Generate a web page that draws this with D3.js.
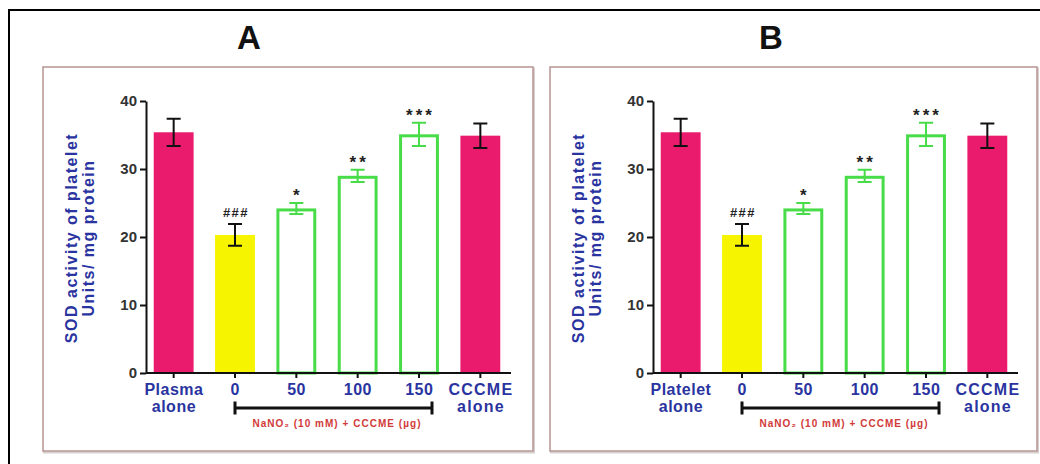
<!DOCTYPE html>
<html>
<head>
<meta charset="utf-8">
<script src="https://cdn.jsdelivr.net/npm/d3@7"></script>
<style>
  body { margin: 0; background: #fff; }
  svg { display: block; }
  text { font-family: "Liberation Sans", Arial, sans-serif; }
</style>
</head>
<body>
<svg id="chart" width="1040" height="464"></svg>
<script>
// SOD activity of platelets (Units/mg protein), mean ± SEM
const categoriesA = ["Plasma alone", "0", "50", "100", "150", "CCCME alone"];
const categoriesB = ["Platelet alone", "0", "50", "100", "150", "CCCME alone"];
const meansA  = [35.4, 20.3, 24.2, 29.0, 35.1, 34.9];
const errorsA = [2.0, 1.6, 0.8, 0.9, 1.7, 1.8];
const meansB  = [35.4, 20.3, 24.2, 29.0, 35.1, 34.9];
const errorsB = [2.0, 1.6, 0.8, 0.9, 1.7, 1.8];
const significance = ["", "###", "*", "**", "***", ""];
const groupKind = ["control", "nitrite", "dose", "dose", "dose", "control"];
const yTicks = [0, 10, 20, 30, 40];
const panelTitles = ["A", "B"];
const yTitleLines = ["SOD activity of platelet", "Units/ mg protein"];
const treatmentNote = "NaNO\u2082 (10 mM) + CCCME (\u00b5g)";

const svg = d3.select("#chart");

const COLORS = {
  pink: "#ea1a6c",
  yellow: "#f7f400",
  green: "#48dc48",
  blue: "#2a34a0",
  red: "#d23a3a",
  frame: "#b89494"
};

// outer frame (only top and left edges fall inside the page)
svg.append("path")
  .attr("d", "M9,464 V10 H1040")
  .attr("fill", "none")
  .attr("stroke", "#000")
  .attr("stroke-width", 2);

const panels = [
  { left: 43,  width: 490, titleX: 249, title: panelTitles[0], cats: categoriesA, means: meansA, errs: errorsA },
  { left: 550, width: 487, titleX: 771, title: panelTitles[1], cats: categoriesB, means: meansB, errs: errorsB }
];

const frameTop = 67, frameBottom = 451;

panels.forEach(p => {
  // panel title
  svg.append("text")
    .attr("x", p.titleX).attr("y", 49)
    .attr("text-anchor", "middle")
    .attr("font-size", 33).attr("font-weight", "bold")
    .attr("fill", "#111")
    .text(p.title);

  // panel frame with soft shadow
  svg.append("rect")
    .attr("x", p.left + 1).attr("y", frameTop + 1.5)
    .attr("width", p.width).attr("height", frameBottom - frameTop)
    .attr("fill", "none").attr("stroke", "#d6d0d0").attr("stroke-width", 2);
  svg.append("rect")
    .attr("x", p.left).attr("y", frameTop)
    .attr("width", p.width).attr("height", frameBottom - frameTop)
    .attr("fill", "#fff").attr("stroke", COLORS.frame).attr("stroke-width", 1.5);

  const g = svg.append("g").attr("transform", `translate(${p.left},0)`);

  const x = d3.scaleBand().domain(p.cats).range([100, 468]).paddingInner(0.35).paddingOuter(0.175);
  const y = d3.scaleLinear().domain([0, 40]).range([373, 101]);
  const axisX0 = 103, axisX1 = 468;

  // bars
  const bars = g.selectAll("rect.bar").data(p.cats).join("rect").attr("class", "bar");
  bars.each(function(c, i) {
    const r = d3.select(this);
    const kind = groupKind[i];
    const x0 = x(c), w = x.bandwidth();
    const yv = y(p.means[i]);
    if (kind === "dose") {
      r.attr("x", x0 + 1.5).attr("y", yv + 1.5)
        .attr("width", w - 3).attr("height", y(0) - yv - 1.5)
        .attr("fill", "#fff").attr("stroke", COLORS.green).attr("stroke-width", 3);
    } else {
      r.attr("x", x0).attr("y", yv)
        .attr("width", w).attr("height", y(0) - yv)
        .attr("fill", kind === "control" ? COLORS.pink : COLORS.yellow);
    }
  });

  // error bars
  p.cats.forEach((c, i) => {
    const cx = x(c) + x.bandwidth() / 2;
    const col = groupKind[i] === "dose" ? COLORS.green : "#111";
    const hi = y(p.means[i] + p.errs[i]), lo = y(p.means[i] - p.errs[i]);
    const cap = 7;
    g.append("path")
      .attr("d", `M${cx},${hi} V${lo} M${cx - cap},${hi} H${cx + cap} M${cx - cap},${lo} H${cx + cap}`)
      .attr("fill", "none").attr("stroke", col).attr("stroke-width", 2);
    if (significance[i]) {
      const isHash = significance[i].startsWith("#");
      g.append("text")
        .attr("x", cx + (isHash ? 1 : 1.5)).attr("y", hi - (isHash ? 7 : 2))
        .attr("text-anchor", "middle")
        .attr("font-size", isHash ? 13 : 17).attr("font-weight", "bold")
        .attr("letter-spacing", isHash ? 1.5 : 3)
        .attr("fill", "#222")
        .text(significance[i]);
    }
  });

  // y axis
  const yAxis = d3.axisLeft(y).tickValues(yTicks).tickSize(6).tickPadding(3).tickSizeOuter(0);
  const ya = g.append("g").attr("transform", `translate(${axisX0},0)`).call(yAxis);
  ya.select(".domain").attr("stroke", "#111").attr("stroke-width", 2);
  ya.selectAll(".tick line").attr("stroke", "#111").attr("stroke-width", 2);
  ya.selectAll(".tick text")
    .attr("font-size", 15).attr("font-weight", "bold").attr("fill", "#333")
    .attr("font-family", "'Liberation Sans', Arial, sans-serif");

  // x axis
  const xa = g.append("g").attr("transform", `translate(0,${y(0)})`)
    .call(d3.axisBottom(x).tickSize(5).tickFormat(""));
  xa.select(".domain").attr("d", `M${axisX0},0 H${axisX1}`).attr("stroke", "#111").attr("stroke-width", 2);
  xa.selectAll(".tick line").attr("stroke", "#111").attr("stroke-width", 2);

  // category labels
  p.cats.forEach((c, i) => {
    const cx = x(c) + x.bandwidth() / 2;
    const parts = c.split(" ");
    const wide = c.startsWith("CCCME");
    const t = g.append("text")
      .attr("text-anchor", "middle")
      .attr("font-size", 16).attr("font-weight", "bold")
      .attr("fill", COLORS.blue)
      .attr("letter-spacing", wide ? 1.2 : 0.5);
    parts.forEach((s, k) => {
      t.append("tspan").attr("x", cx + (wide ? 0.6 : 0.25)).attr("y", 395 + k * 17).text(s);
    });
  });

  // treatment bracket spanning the dose groups
  const bx0 = x("0") + x.bandwidth() / 2;
  const bx1 = x("150") + x.bandwidth() / 2 + 13;
  g.append("path")
    .attr("d", `M${bx0},408 H${bx1} M${bx0},401.5 V414.5 M${bx1},401.5 V414.5`)
    .attr("fill", "none").attr("stroke", "#111").attr("stroke-width", 3);
  g.append("text")
    .attr("x", (bx0 + bx1) / 2 + 3).attr("y", 427)
    .attr("text-anchor", "middle")
    .attr("font-size", 10).attr("font-weight", "bold")
    .attr("fill", COLORS.red)
    .attr("textLength", 168).attr("lengthAdjust", "spacing")
    .text(treatmentNote);

  // y axis title
  const yt = g.append("text")
    .attr("transform", "translate(0,238) rotate(-90)")
    .attr("text-anchor", "middle")
    .attr("font-size", 16).attr("font-weight", "bold")
    .attr("letter-spacing", 1.5)
    .attr("fill", COLORS.blue);
  yTitleLines.forEach((s, k) => {
    yt.append("tspan").attr("x", 0).attr("y", 34 + k * 17).text(s);
  });
});
</script>
</body>
</html>
